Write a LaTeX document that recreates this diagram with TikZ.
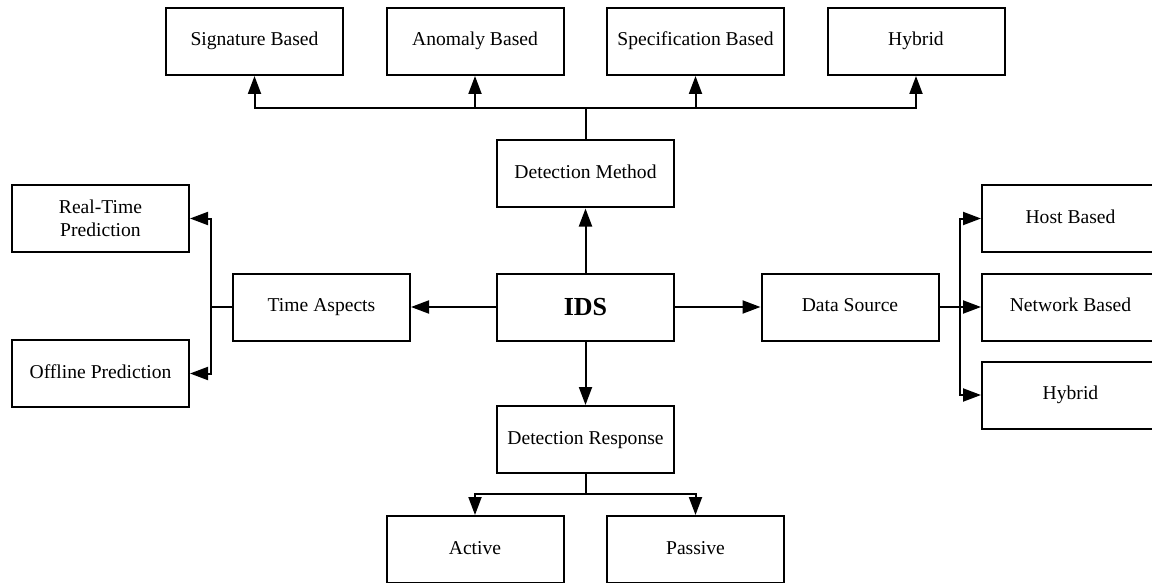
\documentclass[tikz,border=0pt]{standalone}
\usepackage{fontspec}
\setmainfont{Liberation Serif}
\usetikzlibrary{arrows.meta}
\tikzset{
  box/.style={draw, line width=2pt, minimum width=177pt, minimum height=67pt, inner sep=2pt, align=center, font=\fontsize{19.6}{22.5}\selectfont},
  onebox/.style={box, text height=13.5pt, text depth=4.5pt},
  arr/.style={line width=2pt, -{Triangle[length=18pt,width=13pt]}},
  ln/.style={line width=2pt}
}
\begin{document}
\begin{tikzpicture}[x=1pt,y=-1pt]
\useasboundingbox (0,0) rectangle (1152,583);
\fill[white] (0,0) rectangle (1152,583);
% top
\node[onebox] (sig) at (254.5,41.5) {Signature Based};
\node[onebox] (ano) at (475,41.5) {Anomaly Based};
\node[onebox] (spe) at (695.5,41.5) {Specification Based};
\node[onebox] (hyt) at (916,41.5) {Hybrid};
% center column
\node[onebox] (dm) at (585.5,174) {Detection Method};
\node[box, font=\bfseries\fontsize{26}{30}\selectfont] (ids) at (585.5,307) {IDS};
\node[onebox] (dr) at (585.5,439.5) {Detection Response};
\node[onebox] (act) at (475,549.5) {Active};
\node[onebox] (pas) at (695.5,549.5) {Passive};
% left
\node[onebox] (ta) at (321.5,307) {Time Aspects};
\node[box] (rt) at (100.5,218.5) {Real-Time\\Prediction};
\node[onebox] (off) at (100.5,373.5) {Offline Prediction};
% right
\node[onebox] (ds) at (850,307) {Data Source};
\node[onebox] (hb) at (1070.5,218.5) {Host Based};
\node[onebox] (nb) at (1070.5,307) {Network Based};
\node[onebox] (hyr) at (1070.5,395) {Hybrid};
% connectors from IDS
\draw[arr] (ids) -- (dm);
\draw[arr] (ids) -- (dr);
\draw[arr] (ids) -- (ta);
\draw[arr] (ids) -- (ds);
% top bus
\coordinate (tb) at (585.5,108);
\draw[ln] (dm.north) -- (tb);
\draw[arr] (tb) -| (sig);
\draw[arr] (tb) -| (ano);
\draw[arr] (tb) -| (spe);
\draw[arr] (tb) -| (hyt);
% bottom bus
\coordinate (bb) at (585.5,494);
\draw[ln] (dr.south) -- (bb);
\draw[arr] (bb) -| (act);
\draw[arr] (bb) -| (pas);
% left bus
\coordinate (lb) at (211,307);
\draw[ln] (ta.west) -- (lb);
\draw[arr] (lb) |- (rt);
\draw[arr] (lb) |- (off);
% right bus
\coordinate (rb) at (960,307);
\draw[ln] (ds.east) -- (rb);
\draw[arr] (rb) |- (hb);
\draw[arr] (rb) -- (nb);
\draw[arr] (rb) |- (hyr);
\end{tikzpicture}
\end{document}
